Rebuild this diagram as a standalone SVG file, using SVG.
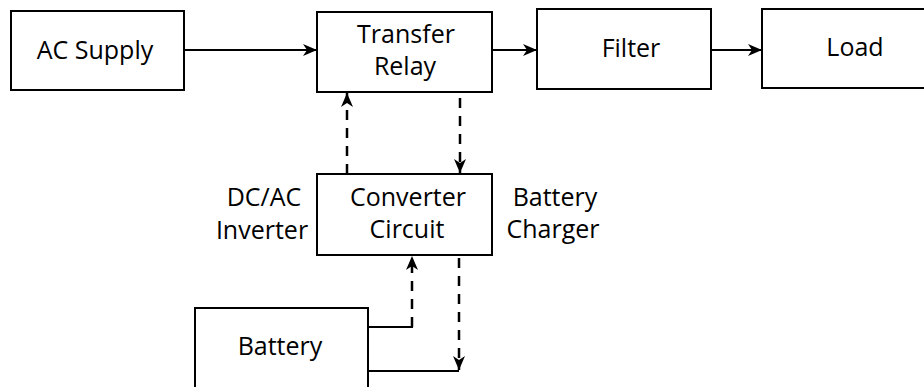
<svg xmlns="http://www.w3.org/2000/svg" width="924" height="387" viewBox="0 0 924 387">
<style>
.box{fill:#fff;stroke:#000;stroke-width:2}
.t{font-family:"Open Sans","Liberation Sans",sans-serif;font-size:25px;fill:#000;text-anchor:middle}
.c{fill:none;stroke:#000;stroke-width:2}
.d{fill:none;stroke:#000;stroke-width:2.5;stroke-dasharray:10 8}
</style>
<defs>
<marker id="ah" markerUnits="userSpaceOnUse" markerWidth="14" markerHeight="14" viewBox="0 0 14 14" refX="14" refY="7" orient="auto">
<path d="M0,1 L14,7 L0,13 L4,7 Z" fill="#000"/>
</marker>
</defs>
<rect width="924" height="387" fill="#fff"/>
<g id="connectors">
<line class="c" x1="184" y1="50" x2="317" y2="50" marker-end="url(#ah)"/>
<line class="c" x1="492" y1="50" x2="537" y2="50" marker-end="url(#ah)"/>
<line class="c" x1="711" y1="50" x2="762" y2="50" marker-end="url(#ah)"/>
<line class="d" x1="347" y1="174" x2="347" y2="93" marker-end="url(#ah)"/>
<line class="d" x1="460" y1="98" x2="460" y2="173" marker-end="url(#ah)"/>
<line class="c" x1="368" y1="327" x2="413" y2="327"/>
<line class="d" x1="412" y1="327" x2="412" y2="256" marker-end="url(#ah)"/>
<line class="d" x1="459" y1="258" x2="459" y2="370" marker-end="url(#ah)"/>
<line class="c" x1="368" y1="371" x2="459" y2="371"/>
</g>
<g id="ac-supply">
<rect class="box" x="11" y="11" width="173" height="79"/>
<text class="t" x="95" y="59">AC Supply</text>
</g>
<g id="transfer-relay">
<rect class="box" x="317" y="12" width="175" height="80"/>
<text class="t" x="406" y="43">Transfer</text>
<text class="t" x="405" y="75">Relay</text>
</g>
<g id="filter">
<rect class="box" x="537" y="9" width="174" height="80"/>
<text class="t" x="631" y="57">Filter</text>
</g>
<g id="load">
<rect class="box" x="762" y="9" width="190" height="79"/>
<text class="t" x="855" y="56">Load</text>
</g>
<g id="converter-circuit">
<rect class="box" x="317" y="174" width="175" height="81"/>
<text class="t" x="408" y="206">Converter</text>
<text class="t" x="407" y="238">Circuit</text>
</g>
<g id="dc-ac-inverter">
<text class="t" x="264" y="206">DC/AC</text>
<text class="t" x="262" y="239">Inverter</text>
</g>
<g id="battery-charger">
<text class="t" x="555" y="206">Battery</text>
<text class="t" x="553" y="238">Charger</text>
</g>
<g id="battery">
<rect class="box" x="195" y="308" width="173" height="100"/>
<text class="t" x="280" y="355">Battery</text>
</g>
</svg>
